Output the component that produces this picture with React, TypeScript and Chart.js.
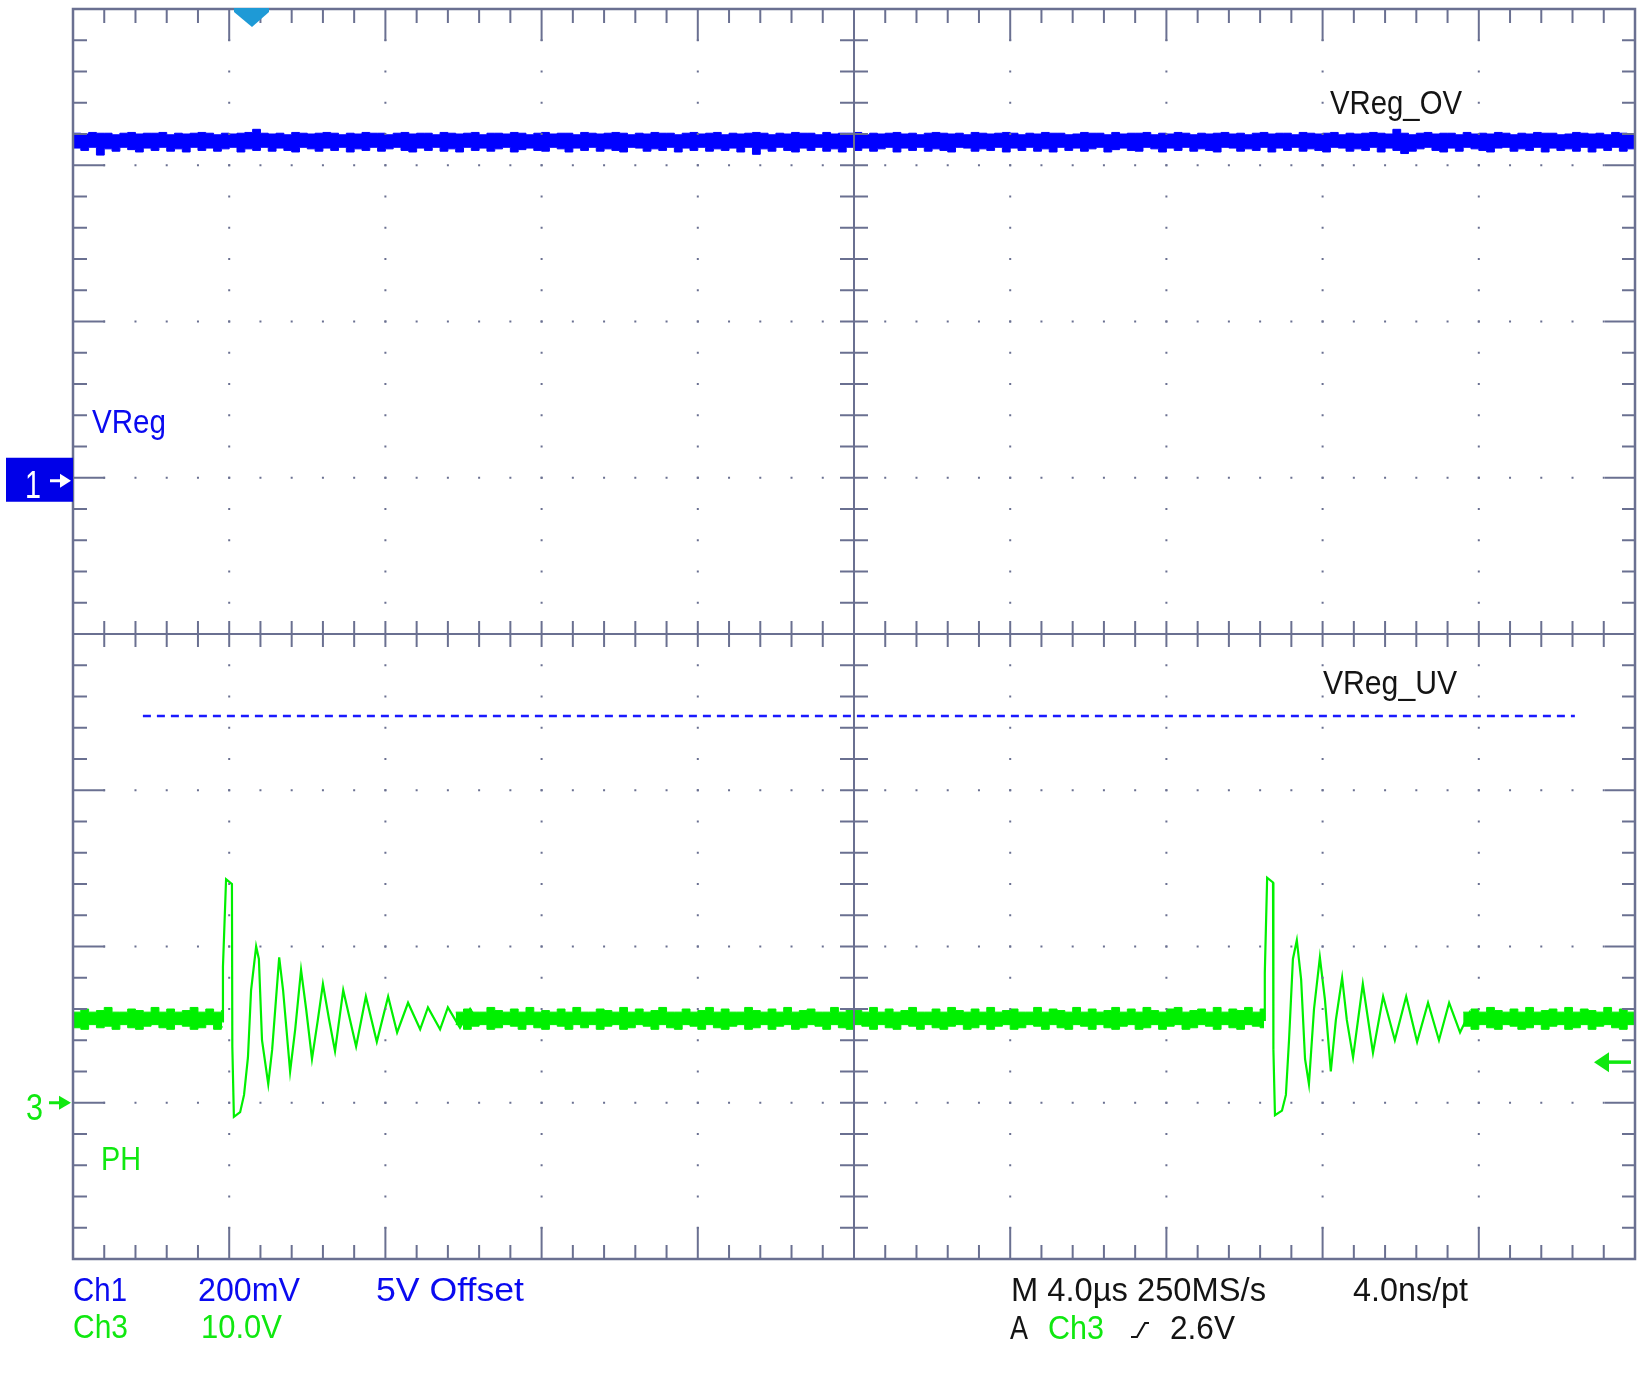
import React, { useEffect, useRef } from "react";
import { Chart, registerables } from "chart.js";

Chart.register(...registerables);

const W = 1638;
const H = 1384;

// ---- Scope settings ----
const TIME_RANGE = [0, 40]; // 10 div x 4.0 µs
const CH1_RANGE = [4.0, 5.6]; // 200 mV/div, 5 V offset, position +1 div
const CH3_RANGE = [-10, 70]; // 10.0 V/div, position -3 div

// ---- Ch1 (VReg) noise band: sample times (µs) and envelope (V) ----
const blueT = [
  0, 0.2, 0.4, 0.6, 0.8, 1.0, 1.2, 1.4, 1.6, 1.8, 2.0, 2.2, 2.4, 2.6, 2.8, 3.0, 3.2, 3.4, 3.6, 3.8,
  4.0, 4.2, 4.4, 4.6, 4.8, 5.0, 5.2, 5.4, 5.6, 5.8, 6.0, 6.2, 6.4, 6.6, 6.8, 7.0, 7.2, 7.4, 7.6, 7.8,
  8.0, 8.2, 8.4, 8.6, 8.8, 9.0, 9.2, 9.4, 9.6, 9.8, 10.0, 10.2, 10.4, 10.6, 10.8, 11.0, 11.2, 11.4, 11.6, 11.8,
  12.0, 12.2, 12.4, 12.6, 12.8, 13.0, 13.2, 13.4, 13.6, 13.8, 14.0, 14.2, 14.4, 14.6, 14.8, 15.0, 15.2, 15.4, 15.6, 15.8,
  16.0, 16.2, 16.4, 16.6, 16.8, 17.0, 17.2, 17.4, 17.6, 17.8, 18.0, 18.2, 18.4, 18.6, 18.8, 19.0, 19.2, 19.4, 19.6, 19.8,
  20.0, 20.2, 20.4, 20.6, 20.8, 21.0, 21.2, 21.4, 21.6, 21.8, 22.0, 22.2, 22.4, 22.6, 22.8, 23.0, 23.2, 23.4, 23.6, 23.8,
  24.0, 24.2, 24.4, 24.6, 24.8, 25.0, 25.2, 25.4, 25.6, 25.8, 26.0, 26.2, 26.4, 26.6, 26.8, 27.0, 27.2, 27.4, 27.6, 27.8,
  28.0, 28.2, 28.4, 28.6, 28.8, 29.0, 29.2, 29.4, 29.6, 29.8, 30.0, 30.2, 30.4, 30.6, 30.8, 31.0, 31.2, 31.4, 31.6, 31.8,
  32.0, 32.2, 32.4, 32.6, 32.8, 33.0, 33.2, 33.4, 33.6, 33.8, 34.0, 34.2, 34.4, 34.6, 34.8, 35.0, 35.2, 35.4, 35.6, 35.8,
  36.0, 36.2, 36.4, 36.6, 36.8, 37.0, 37.2, 37.4, 37.6, 37.8, 38.0, 38.2, 38.4, 38.6, 38.8, 39.0, 39.2, 39.4, 39.6, 39.8,
  40.0,
];
const blueHi = [
  5.441, 5.440, 5.442, 5.441, 5.441, 5.439, 5.441, 5.442, 5.440, 5.441, 5.441, 5.442, 5.439, 5.441, 5.440, 5.441, 5.442, 5.441, 5.439, 5.441,
  5.440, 5.441, 5.442, 5.446, 5.441, 5.440, 5.441, 5.439, 5.442, 5.441, 5.440, 5.441, 5.442, 5.441, 5.439, 5.441, 5.440, 5.442, 5.441, 5.441,
  5.439, 5.441, 5.442, 5.440, 5.441, 5.441, 5.439, 5.442, 5.441, 5.440, 5.441, 5.442, 5.439, 5.441, 5.441, 5.440, 5.442, 5.441, 5.439, 5.441,
  5.442, 5.440, 5.441, 5.441, 5.439, 5.442, 5.441, 5.440, 5.441, 5.442, 5.441, 5.439, 5.441, 5.440, 5.442, 5.441, 5.441, 5.439, 5.441, 5.442,
  5.440, 5.441, 5.442, 5.439, 5.441, 5.440, 5.441, 5.442, 5.441, 5.439, 5.441, 5.440, 5.442, 5.441, 5.441, 5.439, 5.442, 5.440, 5.441, 5.441,
  5.442, 5.439, 5.441, 5.440, 5.441, 5.442, 5.440, 5.441, 5.439, 5.441, 5.442, 5.441, 5.440, 5.441, 5.439, 5.442, 5.441, 5.440, 5.441, 5.442,
  5.441, 5.439, 5.441, 5.440, 5.442, 5.441, 5.441, 5.439, 5.440, 5.442, 5.441, 5.441, 5.439, 5.442, 5.440, 5.441, 5.441, 5.442, 5.439, 5.441,
  5.440, 5.442, 5.441, 5.439, 5.441, 5.440, 5.441, 5.442, 5.440, 5.441, 5.439, 5.441, 5.442, 5.440, 5.441, 5.441, 5.439, 5.442, 5.441, 5.440,
  5.441, 5.442, 5.439, 5.441, 5.440, 5.441, 5.442, 5.441, 5.440, 5.446, 5.441, 5.439, 5.441, 5.442, 5.440, 5.441, 5.441, 5.439, 5.442, 5.440,
  5.441, 5.440, 5.442, 5.441, 5.439, 5.441, 5.440, 5.442, 5.441, 5.441, 5.439, 5.440, 5.442, 5.441, 5.440, 5.441, 5.439, 5.442, 5.441, 5.440,
  5.441,
];
const blueLo = [
  5.422, 5.419, 5.423, 5.413, 5.421, 5.418, 5.423, 5.420, 5.417, 5.422, 5.419, 5.423, 5.418, 5.421, 5.417, 5.423, 5.419, 5.422, 5.418, 5.421,
  5.423, 5.417, 5.421, 5.419, 5.423, 5.418, 5.422, 5.419, 5.417, 5.423, 5.421, 5.418, 5.422, 5.419, 5.423, 5.417, 5.421, 5.419, 5.423, 5.418,
  5.421, 5.423, 5.419, 5.417, 5.422, 5.419, 5.423, 5.418, 5.421, 5.417, 5.423, 5.419, 5.422, 5.418, 5.421, 5.423, 5.417, 5.420, 5.422, 5.419,
  5.418, 5.423, 5.421, 5.417, 5.422, 5.419, 5.423, 5.418, 5.421, 5.419, 5.417, 5.423, 5.422, 5.418, 5.421, 5.419, 5.423, 5.417, 5.422, 5.419,
  5.423, 5.418, 5.421, 5.419, 5.422, 5.417, 5.423, 5.414, 5.421, 5.418, 5.423, 5.419, 5.417, 5.422, 5.419, 5.423, 5.418, 5.421, 5.417, 5.423,
  5.419, 5.422, 5.418, 5.421, 5.423, 5.417, 5.422, 5.419, 5.423, 5.418, 5.421, 5.419, 5.417, 5.423, 5.422, 5.418, 5.421, 5.419, 5.423, 5.417,
  5.422, 5.419, 5.423, 5.418, 5.421, 5.417, 5.423, 5.419, 5.422, 5.418, 5.421, 5.423, 5.417, 5.420, 5.422, 5.419, 5.418, 5.423, 5.421, 5.417,
  5.422, 5.419, 5.423, 5.418, 5.421, 5.419, 5.417, 5.423, 5.422, 5.418, 5.421, 5.419, 5.423, 5.417, 5.422, 5.419, 5.423, 5.418, 5.421, 5.419,
  5.417, 5.423, 5.422, 5.418, 5.421, 5.419, 5.423, 5.417, 5.422, 5.419, 5.415, 5.418, 5.421, 5.423, 5.419, 5.417, 5.422, 5.418, 5.423, 5.421,
  5.419, 5.417, 5.422, 5.423, 5.418, 5.421, 5.419, 5.423, 5.417, 5.422, 5.419, 5.421, 5.418, 5.423, 5.417, 5.422, 5.419, 5.423, 5.418, 5.421,
  5.420,
];

// ---- VReg_UV threshold (dashed, Ch1 scale) ----
const uvT = [1.79, 38.46];
const uvV = [4.695, 4.695];

// ---- Ch3 (PH) baseline noise bands: times (µs), envelope (V) ----
const gA_T = [0, 0.2, 0.4, 0.6, 0.8, 1.0, 1.2, 1.4, 1.6, 1.8, 2.0, 2.2, 2.4, 2.6, 2.8, 3.0, 3.2, 3.4, 3.6, 3.8, 3.82];
const gA_Hi = [5.8, 6.0, 5.8, 5.9, 6.1, 5.8, 5.8, 6.0, 5.9, 5.8, 6.1, 5.8, 6.0, 5.8, 5.9, 6.1, 5.8, 6.0, 5.8, 5.9, 5.8];
const gA_Lo = [4.8, 4.7, 5.0, 4.8, 4.9, 4.7, 5.0, 4.8, 4.7, 4.9, 5.0, 4.8, 4.7, 5.0, 4.9, 4.7, 4.8, 5.0, 4.7, 4.9, 4.8];

const gB_T = [
  9.8, 10.0, 10.2, 10.4, 10.6, 10.8, 11.0, 11.2, 11.4, 11.6,
  11.8, 12.0, 12.2, 12.4, 12.6, 12.8, 13.0, 13.2, 13.4, 13.6,
  13.8, 14.0, 14.2, 14.4, 14.6, 14.8, 15.0, 15.2, 15.4, 15.6,
  15.8, 16.0, 16.2, 16.4, 16.6, 16.8, 17.0, 17.2, 17.4, 17.6,
  17.8, 18.0, 18.2, 18.4, 18.6, 18.8, 19.0, 19.2, 19.4, 19.6,
  19.8, 20.0, 20.2, 20.4, 20.6, 20.8, 21.0, 21.2, 21.4, 21.6,
  21.8, 22.0, 22.2, 22.4, 22.6, 22.8, 23.0, 23.2, 23.4, 23.6,
  23.8, 24.0, 24.2, 24.4, 24.6, 24.8, 25.0, 25.2, 25.4, 25.6,
  25.8, 26.0, 26.2, 26.4, 26.6, 26.8, 27.0, 27.2, 27.4, 27.6,
  27.8, 28.0, 28.2, 28.4, 28.6, 28.8, 29.0, 29.2, 29.4, 29.6,
  29.8, 30.0, 30.2, 30.4, 30.5,
];
const gB_Hi = [
  5.8, 6.0, 5.8, 5.8, 6.1, 5.9, 5.8, 6.0, 5.8, 6.1,
  5.8, 5.9, 5.8, 6.0, 5.8, 6.1, 5.8, 5.8, 6.0, 5.9,
  5.8, 6.1, 5.8, 6.0, 5.8, 5.9, 6.1, 5.8, 5.8, 6.0,
  5.8, 5.9, 6.1, 5.8, 6.0, 5.8, 5.8, 6.1, 5.9, 5.8,
  6.0, 5.8, 6.1, 5.8, 5.9, 6.0, 5.8, 5.8, 6.1, 5.8,
  6.0, 5.9, 5.8, 6.1, 5.8, 6.0, 5.8, 5.9, 6.1, 5.8,
  5.8, 6.0, 5.8, 6.1, 5.9, 5.8, 6.0, 5.8, 6.1, 5.8,
  5.9, 6.0, 5.8, 5.8, 6.1, 5.8, 6.0, 5.9, 5.8, 6.1,
  5.8, 6.0, 5.8, 5.9, 6.1, 5.8, 6.0, 5.8, 6.1, 5.9,
  5.8, 6.0, 6.1, 5.8, 5.9, 6.0, 5.8, 6.1, 5.8, 6.0,
  5.9, 6.1, 5.8, 6.0, 5.8,
];
const gB_Lo = [
  5.0, 4.7, 4.9, 5.0, 4.7, 4.8, 5.0, 4.9, 4.7, 5.0,
  4.8, 4.7, 5.0, 4.9, 4.7, 5.0, 4.8, 5.0, 4.7, 4.9,
  5.0, 4.7, 4.8, 5.0, 4.9, 4.7, 5.0, 4.8, 4.7, 5.0,
  4.9, 4.7, 5.0, 4.8, 4.7, 4.9, 5.0, 4.7, 4.8, 5.0,
  4.7, 4.9, 5.0, 4.7, 4.8, 5.0, 4.9, 4.7, 5.0, 4.8,
  4.7, 5.0, 4.9, 4.7, 5.0, 4.8, 4.7, 5.0, 4.9, 4.7,
  5.0, 4.8, 4.7, 4.9, 5.0, 4.7, 4.8, 5.0, 4.7, 4.9,
  5.0, 4.7, 4.8, 5.0, 4.9, 4.7, 5.0, 4.8, 4.7, 5.0,
  4.9, 4.7, 5.0, 4.8, 4.7, 4.9, 5.0, 4.7, 4.8, 5.0,
  4.7, 4.9, 5.0, 4.7, 4.8, 5.0, 4.9, 4.7, 5.0, 4.8,
  4.7, 5.0, 4.9, 4.8, 4.8,
];

const gC_T = [
  35.6, 35.8, 36.0, 36.2, 36.4, 36.6, 36.8, 37.0, 37.2, 37.4, 37.6, 37.8,
  38.0, 38.2, 38.4, 38.6, 38.8, 39.0, 39.2, 39.4, 39.6, 39.8, 40.0,
];
const gC_Hi = [5.8, 6.0, 5.8, 6.1, 5.9, 5.8, 6.0, 5.8, 6.1, 5.8, 5.9, 6.0, 5.8, 6.1, 5.8, 6.0, 5.9, 5.8, 6.1, 5.8, 6.0, 5.8, 5.9];
const gC_Lo = [4.9, 4.7, 5.0, 4.8, 4.7, 5.0, 4.9, 4.7, 4.8, 5.0, 4.7, 4.9, 5.0, 4.7, 4.8, 5.0, 4.7, 4.9, 5.0, 4.8, 4.7, 5.0, 4.8];

// ---- Ch3 (PH) switching ring bursts: time (µs), voltage (V) ----
const burst1T = [
  3.82, 3.84, 3.92, 4.07, 4.08, 4.12, 4.28, 4.38, 4.48, 4.56,
  4.69, 4.76, 4.84, 5.00, 5.10, 5.28, 5.38, 5.56, 5.69, 5.84,
  5.97, 6.12, 6.27, 6.40, 6.56, 6.71, 6.92, 7.25, 7.50, 7.78,
  8.07, 8.30, 8.58, 8.89, 9.09, 9.40, 9.60, 9.91, 10.17, 10.42,
];
const burst1V = [
  5.2, 8.7, 14.3, 14.0, 3.6, -0.9, -0.6, 0.5, 2.9, 7.2,
  10.0, 9.2, 4.0, 1.2, 3.4, 9.3, 7.2, 2.0, 4.7, 8.5,
  6.0, 2.8, 5.3, 7.6, 5.3, 3.3, 7.2, 3.6, 6.8, 3.9,
  6.8, 4.5, 6.4, 4.7, 6.1, 4.7, 6.1, 4.8, 6.0, 5.0,
];
const burst2T = [
  30.50, 30.52, 30.58, 30.73, 30.74, 30.78, 30.96, 31.06, 31.14, 31.24,
  31.34, 31.45, 31.55, 31.65, 31.78, 31.93, 32.06, 32.21, 32.34, 32.50,
  32.62, 32.78, 33.03, 33.29, 33.55, 33.85, 34.14, 34.42, 34.70, 34.98,
  35.24, 35.52, 35.77, 36.03,
];
const burst2V = [
  5.3, 8.3, 14.4, 14.1, 3.4, -0.8, -0.5, 0.5, 4.0, 9.2,
  10.4, 7.9, 2.8, 1.2, 6.0, 9.3, 6.6, 2.0, 5.3, 8.0,
  5.3, 2.9, 7.6, 3.2, 6.8, 4.0, 6.8, 3.9, 6.4, 4.0,
  6.4, 4.5, 5.8, 5.0,
];

// ---- Labels ----
const labelCh1 = ["Ch1", "200mV", "5V Offset"];
const labelCh3 = ["Ch3", "10.0V"];
const labelTime = ["M 4.0µs 250MS/s", "4.0ns/pt"];
const labelTrig = ["A", "Ch3", "2.6V"];
const annotations = ["VReg_OV", "VReg_UV", "VReg", "PH"];

// ---- Colours ----
const BLUE = "#0000ff";
const BLUE_TXT = "#0a0af0";
const GREEN = "#00f000";
const GREEN_TXT = "#10e810";
const GRID = "#6a7091";
const DARK = "#141414";

const pts = (t: number[], v: number[]) => t.map((x, i) => ({ x, y: v[i] }));

function bandPair(t: number[], lo: number[], hi: number[], color: string, axis: string) {
  const base = {
    yAxisID: axis,
    borderColor: color,
    borderWidth: 1,
    pointRadius: 0,
    stepped: true,
    tension: 0,
  };
  return [
    { ...base, data: pts(t, lo), fill: false },
    { ...base, data: pts(t, hi), fill: "-1", backgroundColor: color },
  ];
}

function drawText(
  ctx: CanvasRenderingContext2D,
  s: string,
  x: number,
  baseline: number,
  size: number,
  color: string,
  width?: number
) {
  ctx.save();
  ctx.font = `${size}px "Liberation Sans", Arial, sans-serif`;
  ctx.fillStyle = color;
  ctx.textBaseline = "alphabetic";
  ctx.textAlign = "left";
  const w = ctx.measureText(s).width;
  const sx = width ? width / w : 1;
  ctx.translate(x, baseline);
  ctx.scale(sx, 1);
  ctx.fillText(s, 0, 0);
  ctx.restore();
}

const graticule = {
  id: "graticule",
  afterDatasetsDraw(chart: any) {
    const ctx: CanvasRenderingContext2D = chart.ctx;
    const xs = chart.scales.x;
    const ys = chart.scales.y3;
    const { left, right, top, bottom } = chart.chartArea;
    const px = (m: number) => xs.getPixelForValue(TIME_RANGE[0] + m * 0.8);
    const py = (j: number) => ys.getPixelForValue(CH3_RANGE[1] - j * 2);
    ctx.save();
    ctx.fillStyle = GRID;
    ctx.strokeStyle = GRID;
    for (let i = 1; i < 10; i++) {
      if (i === 5) continue;
      const X = px(i * 5);
      for (let j = 1; j < 40; j++) ctx.fillRect(X - 1, py(j) - 1, 2, 2);
    }
    for (let k = 1; k < 8; k++) {
      if (k === 4) continue;
      const Y = py(k * 5);
      for (let m = 1; m < 50; m++) ctx.fillRect(px(m) - 1, Y - 1, 2, 2);
    }
    ctx.lineWidth = 2;
    const line = (x1: number, y1: number, x2: number, y2: number) => {
      ctx.beginPath();
      ctx.moveTo(x1, y1);
      ctx.lineTo(x2, y2);
      ctx.stroke();
    };
    const cx = px(25);
    const cy = py(20);
    line(cx, top, cx, bottom);
    line(left, cy, right, cy);
    for (let j = 1; j < 40; j++) {
      if (j === 20) continue;
      line(cx - 14, py(j), cx + 14, py(j));
    }
    for (let m = 1; m < 50; m++) {
      if (m === 25) continue;
      line(px(m), cy - 13, px(m), cy + 13);
    }
    for (let m = 1; m < 50; m++) {
      const len = m % 5 === 0 ? 32 : 14;
      line(px(m), top, px(m), top + len);
      line(px(m), bottom, px(m), bottom - len);
    }
    for (let j = 1; j < 40; j++) {
      const lenL = j % 5 === 0 ? 32 : 14;
      const lenR = j % 5 === 0 ? 30 : 13;
      line(left, py(j), left + lenL, py(j));
      line(right, py(j), right - lenR, py(j));
    }
    ctx.lineWidth = 2.5;
    ctx.strokeRect(left, top, right - left, bottom - top);
    ctx.restore();
  },
  afterDraw(chart: any) {
    const ctx: CanvasRenderingContext2D = chart.ctx;
    const y1 = chart.scales.y1;
    const y3 = chart.scales.y3;
    const { left, right } = chart.chartArea;
    ctx.save();

    // trigger position marker (top)
    ctx.fillStyle = "#1e9ad6";
    ctx.beginPath();
    ctx.moveTo(234, 8);
    ctx.lineTo(269, 8);
    ctx.lineTo(269, 12);
    ctx.lineTo(252, 27);
    ctx.lineTo(234, 12);
    ctx.closePath();
    ctx.fill();

    // Ch1 ground marker box
    const g1 = y1.getPixelForValue(5.0);
    ctx.fillStyle = "#0000e8";
    ctx.fillRect(6, g1 - 20, left - 6, 44);
    drawText(ctx, "1", 25, g1 + 20, 39, "#ffffff", 16);
    ctx.strokeStyle = "#ffffff";
    ctx.fillStyle = "#ffffff";
    ctx.lineWidth = 3;
    const a1 = g1 + 3;
    ctx.beginPath();
    ctx.moveTo(50, a1);
    ctx.lineTo(62, a1);
    ctx.stroke();
    ctx.beginPath();
    ctx.moveTo(60, a1 - 7);
    ctx.lineTo(71, a1);
    ctx.lineTo(60, a1 + 7);
    ctx.closePath();
    ctx.fill();

    // Ch3 ground marker
    const g3 = y3.getPixelForValue(0);
    drawText(ctx, "3", 26, g3 + 17, 37, GREEN_TXT, 17);
    ctx.strokeStyle = GREEN_TXT;
    ctx.fillStyle = GREEN_TXT;
    ctx.beginPath();
    ctx.moveTo(49, g3);
    ctx.lineTo(62, g3);
    ctx.stroke();
    ctx.beginPath();
    ctx.moveTo(59, g3 - 7);
    ctx.lineTo(71, g3);
    ctx.lineTo(59, g3 + 7);
    ctx.closePath();
    ctx.fill();

    // Ch3 trigger level arrow (right edge)
    const tl = y3.getPixelForValue(2.6);
    ctx.lineWidth = 3.5;
    ctx.beginPath();
    ctx.moveTo(1606, tl);
    ctx.lineTo(right - 4, tl);
    ctx.stroke();
    ctx.beginPath();
    ctx.moveTo(1594, tl);
    ctx.lineTo(1609, tl - 10);
    ctx.lineTo(1609, tl + 10);
    ctx.closePath();
    ctx.fill();

    // annotations
    drawText(ctx, annotations[0], 1330, 114, 34, DARK, 132);
    drawText(ctx, annotations[1], 1323, 694, 34, DARK, 134);
    drawText(ctx, annotations[2], 92, 433, 34, BLUE_TXT, 74);
    drawText(ctx, annotations[3], 101, 1170, 33, GREEN_TXT, 40);

    // bottom readout
    drawText(ctx, labelCh1[0], 73, 1301, 33, BLUE_TXT, 54);
    drawText(ctx, labelCh1[1], 198, 1301, 33, BLUE_TXT, 102);
    drawText(ctx, labelCh1[2], 376, 1301, 33, BLUE_TXT, 148);
    drawText(ctx, labelCh3[0], 73, 1338, 33, GREEN_TXT, 55);
    drawText(ctx, labelCh3[1], 201, 1338, 33, GREEN_TXT, 81);
    drawText(ctx, labelTime[0], 1011, 1301, 33, DARK, 255);
    drawText(ctx, labelTime[1], 1353, 1301, 33, DARK, 115);
    drawText(ctx, labelTrig[0], 1010, 1339, 33, DARK, 18);
    drawText(ctx, labelTrig[1], 1048, 1339, 33, GREEN_TXT, 56);
    drawText(ctx, labelTrig[2], 1170, 1339, 33, DARK, 65);
    // rising-edge slope symbol
    ctx.strokeStyle = DARK;
    ctx.lineWidth = 2;
    ctx.beginPath();
    ctx.moveTo(1131, 1337);
    ctx.lineTo(1137, 1337);
    ctx.lineTo(1145, 1323);
    ctx.lineTo(1149, 1323);
    ctx.stroke();

    ctx.restore();
  },
};

export default function App() {
  const ref = useRef<HTMLCanvasElement | null>(null);

  useEffect(() => {
    if (!ref.current) return;
    const datasets: any[] = [
      ...bandPair(blueT, blueLo, blueHi, BLUE, "y1"),
      {
        data: pts(uvT, uvV),
        yAxisID: "y1",
        borderColor: "#1a1aff",
        borderWidth: 2.5,
        borderDash: [8, 6],
        pointRadius: 0,
        fill: false,
      },
      ...bandPair(gA_T, gA_Lo, gA_Hi, GREEN, "y3"),
      ...bandPair(gB_T, gB_Lo, gB_Hi, GREEN, "y3"),
      ...bandPair(gC_T, gC_Lo, gC_Hi, GREEN, "y3"),
      {
        data: pts(burst1T, burst1V),
        yAxisID: "y3",
        borderColor: GREEN,
        borderWidth: 2.2,
        pointRadius: 0,
        tension: 0,
        fill: false,
      },
      {
        data: pts(burst2T, burst2V),
        yAxisID: "y3",
        borderColor: GREEN,
        borderWidth: 2.2,
        pointRadius: 0,
        tension: 0,
        fill: false,
      },
    ];
    const chart = new Chart(ref.current, {
      type: "line",
      data: { datasets },
      options: {
        responsive: false,
        devicePixelRatio: 1,
        animation: false,
        events: [],
        layout: { padding: { left: 73, top: 9, right: 3, bottom: 125 } },
        scales: {
          x: { type: "linear", min: TIME_RANGE[0], max: TIME_RANGE[1], display: false },
          y1: { type: "linear", min: CH1_RANGE[0], max: CH1_RANGE[1], display: false },
          y3: { type: "linear", min: CH3_RANGE[0], max: CH3_RANGE[1], display: false },
        },
        plugins: {
          legend: { display: false },
          tooltip: { enabled: false },
          title: { display: false },
        },
      },
      plugins: [graticule],
    } as any);
    return () => chart.destroy();
  }, []);

  return (
    <div style={{ position: "absolute", left: 0, top: 0, width: W, height: H, background: "#ffffff" }}>
      <canvas ref={ref} width={W} height={H} style={{ display: "block", width: W, height: H }} />
    </div>
  );
}
